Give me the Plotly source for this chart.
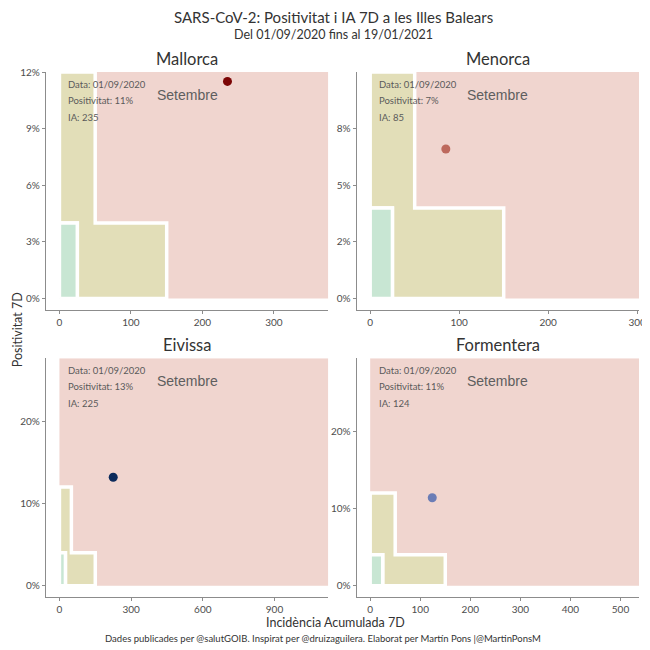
import plotly.graph_objects as go

# Dades del 01/09/2020 per illa
illes = ["Mallorca", "Menorca", "Eivissa", "Formentera"]
ia_7d = [235, 85, 225, 124]
positivitat = [11.5, 6.6, 13.2, 11.4]  # en %
positivitat_txt = ["11%", "7%", "13%", "11%"]
colors_punt = ["#7b0505", "#bd695d", "#0c2b5c", "#6b7db6"]
data_txt = "01/09/2020"
mes = "Setembre"

# Llindars de les zones de risc (IA, positivitat %)
verd_ia, verd_pos = 25, 4
groc_ia_baix, groc_ia_alt = 50, 150
groc_pos_baix, groc_pos_alt = 4, 12

# Límits de cada panell (la zona vermella omple fins a la vora)
x_max = [376, 302, 1125, 537]
y_max = [12, 10, 27.7, 29.5]
x_ticks = [[0, 100, 200, 300], [0, 100, 200, 300],
           [0, 300, 600, 900], [0, 100, 200, 300, 400, 500]]
y_ticks = [[0, 3, 6, 9, 12], [0, 2.5, 5, 7.5], [0, 10, 20], [0, 10, 20]]
y_ticktext = [["0%", "3%", "6%", "9%", "12%"], ["0%", "2%", "5%", "8%"],
              ["0%", "10%", "20%"], ["0%", "10%", "20%"]]

FONT = "Lato"
GREY = "#4d4d4d"

# dominis dels panells (2x2)
x_dom = [[0, 0.476], [0.524, 1], [0, 0.476], [0.524, 1]]
y_dom = [[0.547, 1], [0.547, 1], [0, 0.455], [0, 0.455]]

fig = go.Figure()
annotations = []

for i, illa in enumerate(illes):
    n = "" if i == 0 else str(i + 1)
    xa, ya = "x" + n, "y" + n
    top = min(groc_pos_alt, y_max[i])

    # zona vermella (tot menys la zona groga)
    fig.add_trace(go.Scatter(
        x=[groc_ia_alt, x_max[i], x_max[i], 0, 0, groc_ia_baix, groc_ia_baix,
           groc_ia_alt, groc_ia_alt],
        y=[0, 0, y_max[i], y_max[i], top, top, groc_pos_baix, groc_pos_baix, 0],
        fill="toself", fillcolor="rgba(205,115,95,0.30)", mode="lines",
        line=dict(width=0), hoverinfo="skip", xaxis=xa, yaxis=ya))
    # zona groga (sense la verda)
    fig.add_trace(go.Scatter(
        x=[verd_ia, groc_ia_alt, groc_ia_alt, groc_ia_baix, groc_ia_baix, 0, 0,
           verd_ia, verd_ia],
        y=[0, 0, groc_pos_baix, groc_pos_baix, top, top, verd_pos, verd_pos, 0],
        fill="toself", fillcolor="rgba(182,172,78,0.40)",
        mode="lines", line=dict(width=3.5, color="white"),
        hoverinfo="skip", xaxis=xa, yaxis=ya))
    # zona verda
    fig.add_trace(go.Scatter(
        x=[0, verd_ia, verd_ia, 0, 0], y=[0, 0, verd_pos, verd_pos, 0],
        fill="toself", fillcolor="rgba(110,190,140,0.38)",
        mode="lines", line=dict(width=3.5, color="white"),
        hoverinfo="skip", xaxis=xa, yaxis=ya))
    # punt
    fig.add_trace(go.Scatter(
        x=[ia_7d[i]], y=[positivitat[i]], mode="markers",
        marker=dict(size=9, color=colors_punt[i]),
        xaxis=xa, yaxis=ya))

    axis_common = dict(showline=True, linecolor="#8c8c8c", linewidth=1.3,
                       ticks="outside", tickcolor="#8c8c8c", ticklen=3,
                       tickfont=dict(family=FONT, size=10, color=GREY),
                       showgrid=True, gridcolor="white", gridwidth=1,
                       zeroline=False)
    fig.update_layout(**{
        "xaxis" + n: dict(axis_common, domain=x_dom[i], anchor=ya,
                          range=[-0.05 * x_max[i], x_max[i]],
                          tickvals=x_ticks[i]),
        "yaxis" + n: dict(axis_common, domain=y_dom[i], anchor=xa,
                          range=[-0.05 * y_max[i], y_max[i]],
                          tickvals=y_ticks[i], ticktext=y_ticktext[i]),
    })

    # títol del panell
    annotations.append(dict(
        text=illa, xref=xa + " domain", yref=ya + " domain", x=0.5, y=1,
        xanchor="center", yanchor="bottom", yshift=1, showarrow=False,
        font=dict(family=FONT, size=16.5, color="#333333")))
    # mes
    annotations.append(dict(
        text=mes, xref=xa + " domain", yref=ya + " domain", x=0.5, y=1,
        yshift=-23, xanchor="center", yanchor="middle", showarrow=False,
        font=dict(family="Liberation Sans", size=14, color="#5e5e5e")))
    # etiquetes
    linies = ["Data: " + data_txt, "Positivitat: " + positivitat_txt[i],
              "IA: " + str(ia_7d[i])]
    for k, t in enumerate(linies):
        annotations.append(dict(
            text=t, xref=xa + " domain", yref=ya + " domain", x=0, y=1,
            xshift=20, yshift=-12 - 16.5 * k, xanchor="left", yanchor="middle",
            showarrow=False, font=dict(family=FONT, size=9.5, color="#5a5a5a")))

annotations += [
    dict(text="SARS-CoV-2: Positivitat i IA 7D a les Illes Balears",
         xref="paper", yref="paper", x=0.485, y=1.105, showarrow=False,
         xanchor="center", yanchor="middle",
         font=dict(family=FONT, size=15, color="#333333")),
    dict(text="Del 01/09/2020 fins al 19/01/2021",
         xref="paper", yref="paper", x=0.485, y=1.072, showarrow=False,
         xanchor="center", yanchor="middle",
         font=dict(family=FONT, size=12.5, color="#333333")),
    dict(text="Positivitat 7D", xref="paper", yref="paper", x=-0.049, y=0.51,
         textangle=-90, showarrow=False, xanchor="center", yanchor="middle",
         font=dict(family=FONT, size=12.5, color="#333333")),
    dict(text="Incidència Acumulada 7D", xref="paper", yref="paper",
         x=0.4875, y=-0.048, showarrow=False, xanchor="center",
         yanchor="middle", font=dict(family=FONT, size=12.5, color="#333333")),
    dict(text="Dades publicades per @salutGOIB. Inspirat per @druizaguilera. "
              "Elaborat per Martín Pons |@MartinPonsM",
         xref="paper", yref="paper", x=0.4675, y=-0.079, showarrow=False,
         xanchor="center", yanchor="middle",
         font=dict(family=FONT, size=9.5, color="#333333")),
]

fig.update_layout(
    width=650, height=650,
    margin=dict(l=37, r=14, t=64, b=61),
    plot_bgcolor="white", paper_bgcolor="white",
    showlegend=False,
    annotations=annotations,
)

fig.write_html("out.html")
